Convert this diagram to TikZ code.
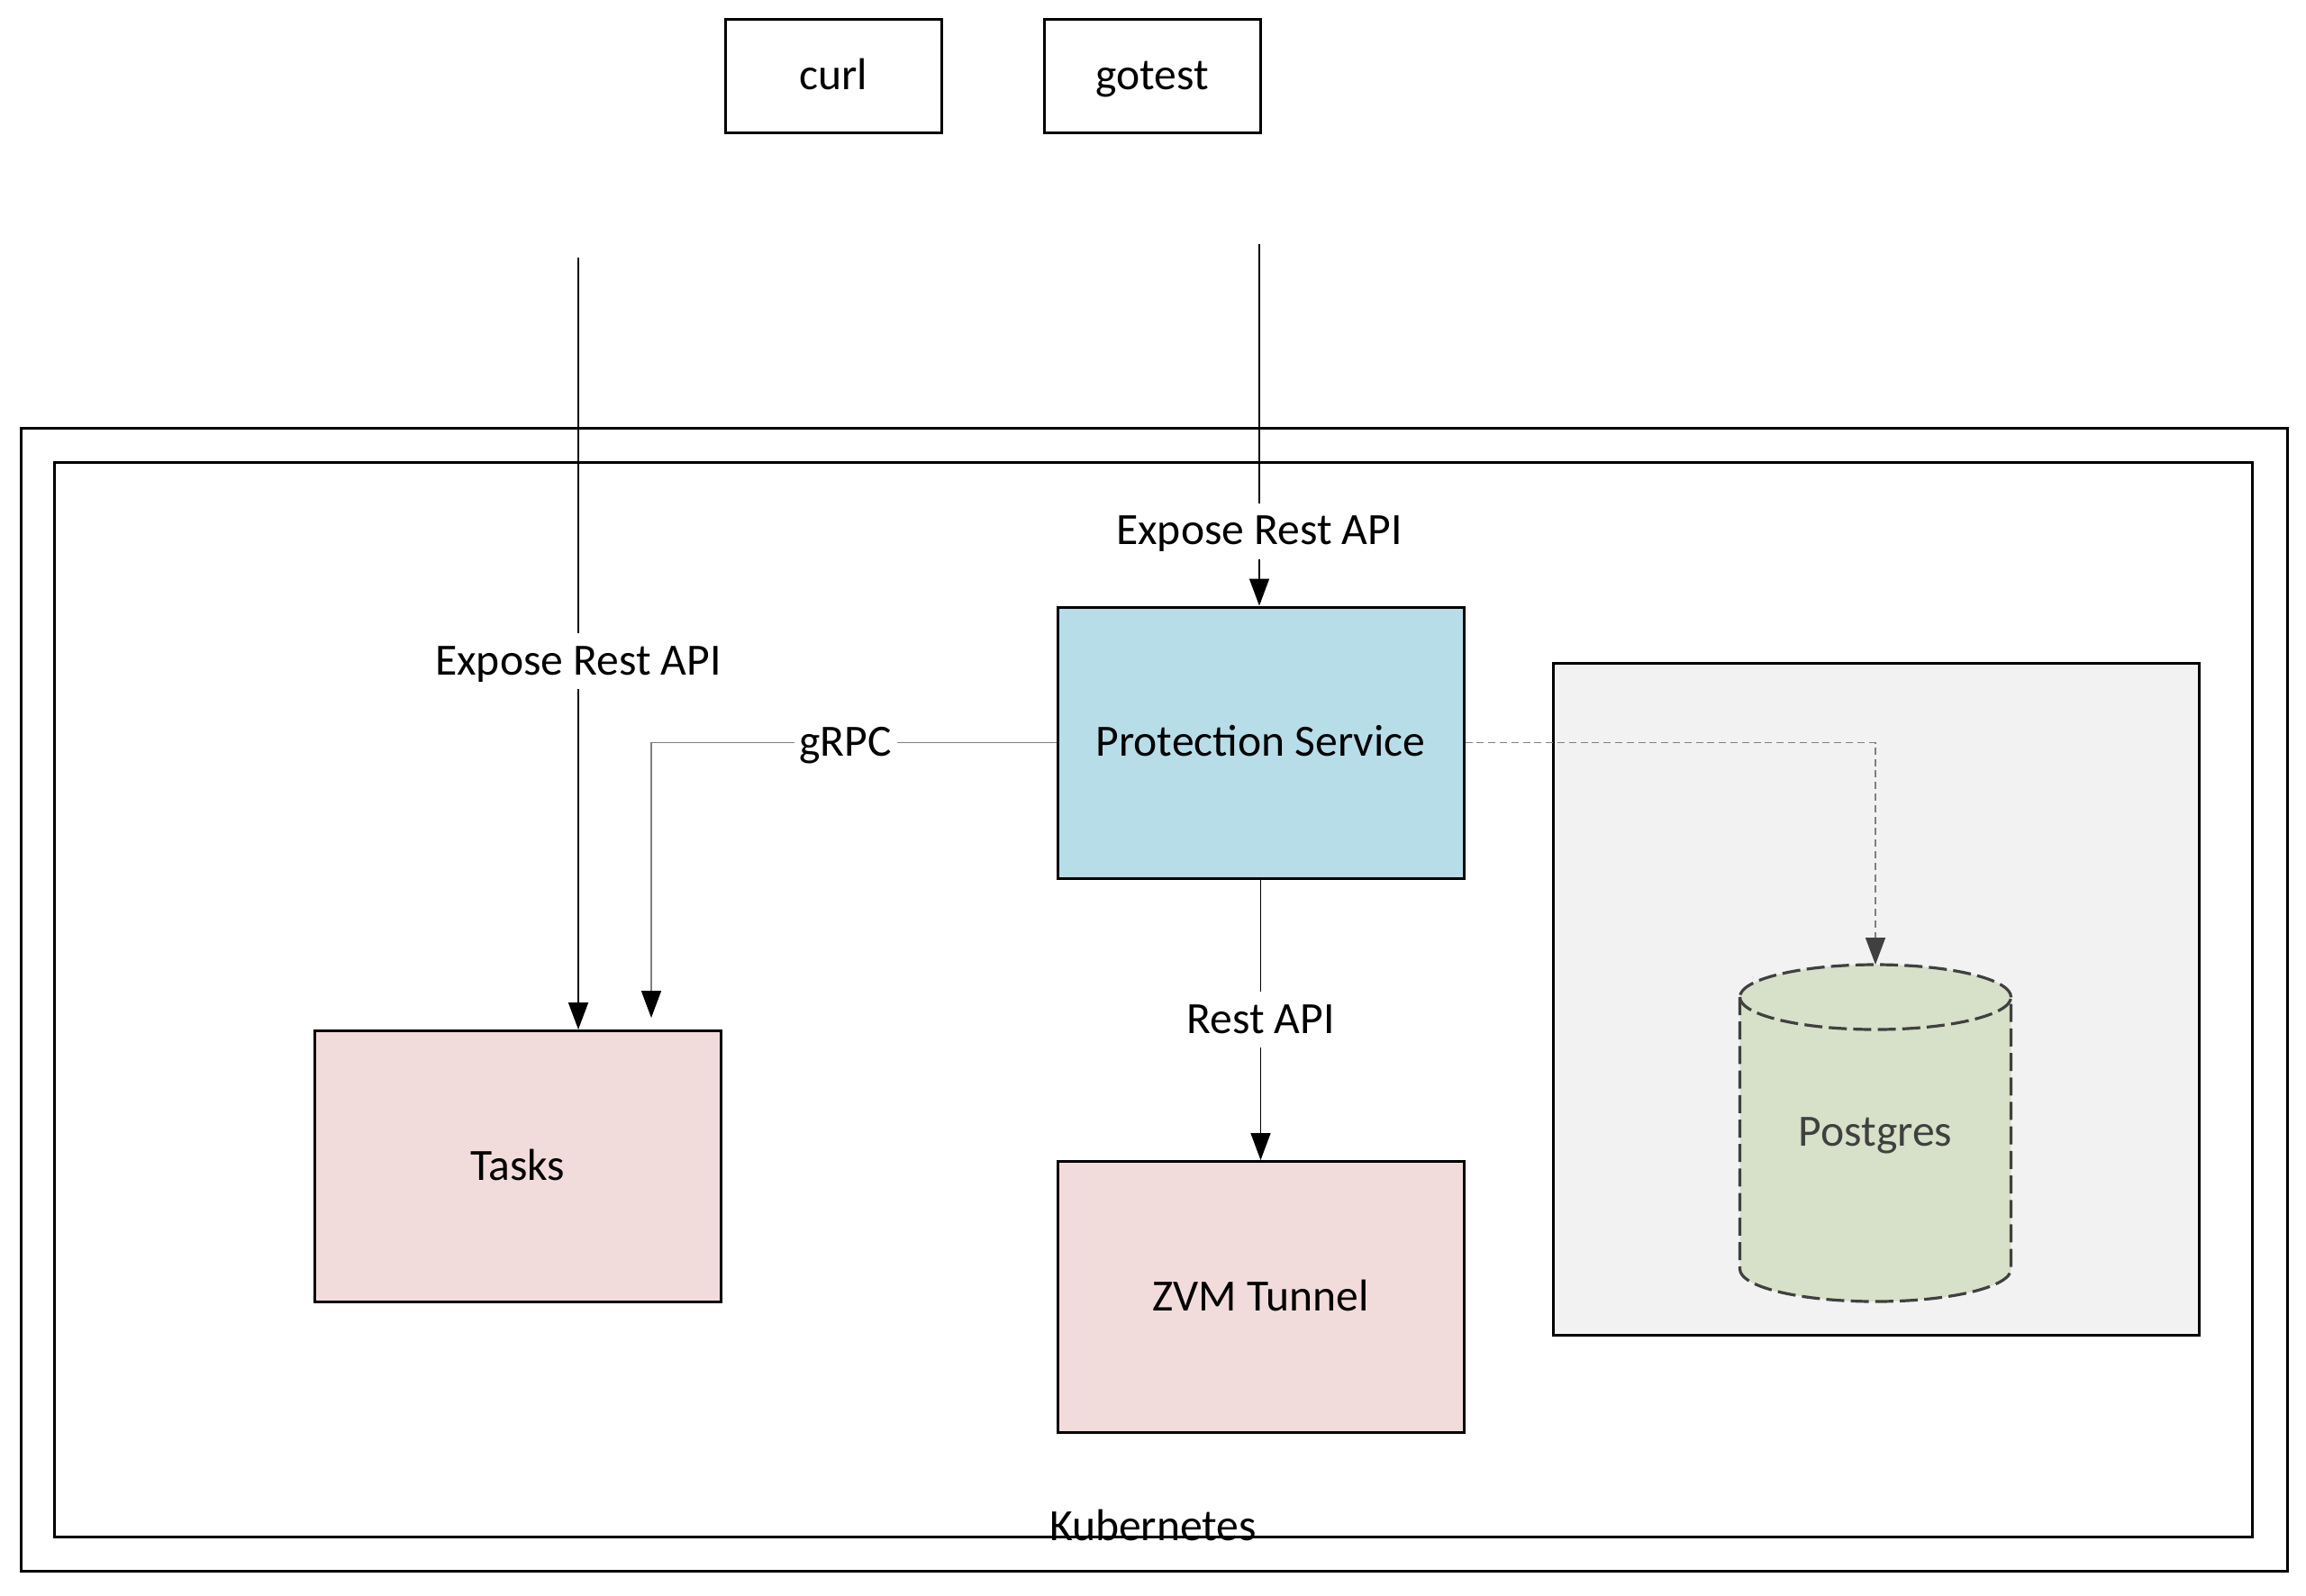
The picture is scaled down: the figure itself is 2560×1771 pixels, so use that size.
\documentclass[tikz,border=0pt]{standalone}
\usepackage{fontspec}
\setmainfont{Carlito}
\usetikzlibrary{arrows.meta,calc}
\definecolor{psblue}{HTML}{B7DDE8}
\definecolor{pinkbox}{HTML}{F2DCDB}
\definecolor{contgray}{HTML}{F2F2F2}
\definecolor{sage}{HTML}{D7E0C8}
\definecolor{dgray}{HTML}{404040}
\definecolor{lgray}{HTML}{7F7F7F}
\begin{document}
\begin{tikzpicture}[x=0.25pt,y=-0.25pt,
  every node/.style={font=\fontsize{12.4}{15}\selectfont, inner sep=0pt, text height=1.0em, text depth=0.25em},
  box/.style={draw=black, line width=0.75pt, minimum width=112.75pt, minimum height=75.25pt},
  topbox/.style={draw=black, line width=0.75pt, minimum width=60pt, minimum height=31.5pt},
  frame/.style={draw=black, line width=0.75pt},
  conn/.style={line width=0.4pt, -{Triangle[length=7.5pt,width=5.5pt,color=black]}},
  lbl/.style={fill=white, inner sep=1.5pt},
]
\useasboundingbox (0,0) rectangle (2560,1771);
\fill[white] (0,0) rectangle (2560,1771);

% Kubernetes frames
\node[frame, minimum width=629pt, minimum height=317.25pt] (k8souter) at (1281,1109.5) {};
\node[frame, minimum width=610pt, minimum height=298.25pt] (k8sinner) at (1280,1109.5) {};

% top clients
\node[topbox] (curl) at (925,84) {curl};
\node[topbox] (gotest) at (1279,84) {gotest};

% main boxes
\node[box, fill=psblue] (ps) at (1399.5,824.5) {Protection Service};
\node[box, fill=pinkbox] (tasks) at (574.5,1295) {Tasks};
\node[box, fill=pinkbox] (zvm) at (1399.5,1440) {ZVM Tunnel};

% postgres container
\node[frame, fill=contgray, minimum width=179.25pt, minimum height=186.5pt] (cont) at (2082.5,1109) {};

% cylinder
\fill[sage] (1931.5,1107) -- (1931.5,1409)
  arc[start angle=180,end angle=0,x radius=150.5,y radius=36] -- (2232.5,1107)
  arc[start angle=0,end angle=-180,x radius=150.5,y radius=36] -- cycle;
\draw[dgray, line width=0.8pt, dash pattern=on 5pt off 1.8pt]
  (1931.5,1107) -- (1931.5,1409)
  arc[start angle=180,end angle=0,x radius=150.5,y radius=36] -- (2232.5,1107)
  arc[start angle=0,end angle=-180,x radius=150.5,y radius=36];
\draw[dgray, line width=0.8pt, dash pattern=on 5pt off 1.8pt]
  (1931.5,1107) arc[start angle=180,end angle=0,x radius=150.5,y radius=36];
\node[text=dgray] (pg) at (2082,1257) {Postgres};
\coordinate (pgtop) at (2082,1071);

% free-end coordinates
\coordinate (curltop) at (642,286);
\coordinate (gttop) at (1398,271);
\coordinate (grpcend) at (723,1130);

% connectors
\draw[conn] (curltop) -- node[lbl, pos=0.523] {Expose Rest API} (curltop |- tasks.north);
\draw[conn] (gttop) -- node[lbl, pos=0.794] {Expose Rest API} (gttop |- ps.north);
\draw[conn, draw=lgray] (ps.west) -- node[lbl, pos=0.52, text=black] {gRPC} (ps.west -| grpcend) -- (grpcend);
\draw[conn] (ps.south) -- node[lbl] {Rest API} (zvm.north);
\draw[line width=0.4pt, draw=lgray, dash pattern=on 2pt off 1.2pt,
  -{Triangle[length=7.5pt,width=5.5pt,color=dgray]}] (ps.east) -| (pgtop);

% Kubernetes label
\node (k8s) at (1280,1695) {Kubernetes};
\end{tikzpicture}
\end{document}
